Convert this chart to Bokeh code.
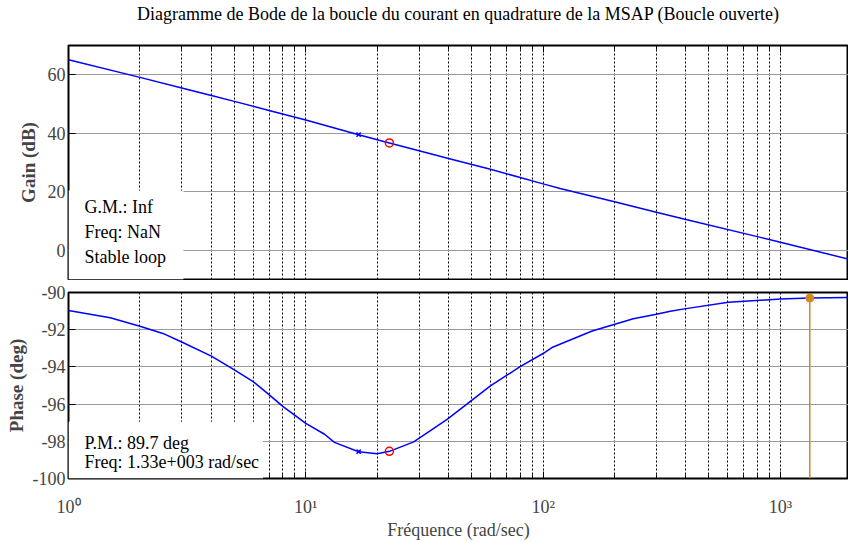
from bokeh.plotting import figure
from bokeh.models import FixedTicker, Label, BoxAnnotation, Range1d, Div
from bokeh.layouts import column
from bokeh.embed import file_html
from bokeh.resources import INLINE

# ---- data ----
freq_gain = [1, 2, 3, 4, 5, 7, 10, 16.7, 22.5, 30, 40.7, 60, 100, 118, 200, 300, 400, 824, 1000, 2000]
gain_db = [65.1, 59.1, 55.5, 52.9, 50.9, 47.8, 44.5, 39.5, 36.7, 34.0, 31.2, 27.7, 22.7, 21.1, 16.6, 13.0, 10.5, 4.4, 2.7, -3.3]

freq_phase = [1, 1.5, 2, 2.5, 3, 4, 5, 6, 7, 8, 10, 12, 13.2, 16.7, 20, 22.5, 28.5, 39.4, 49.4, 60, 80,
              100, 109, 161, 240, 300, 344, 394, 604, 1000, 1330, 2000]
phase_deg = [-90.97, -91.36, -91.81, -92.2, -92.66, -93.42, -94.16, -94.79, -95.49, -96.12, -97.04, -97.62,
             -98.06, -98.56, -98.67, -98.54, -98.03, -96.82, -95.85, -95.02, -93.99,
             -93.28, -92.96, -92.07, -91.41, -91.17, -91.01, -90.88, -90.53, -90.35, -90.30, -90.27]

mark_x_freq = [16.7]
mark_x_gain = [39.5]
mark_x_phase = [-98.56]
mark_o_freq = [22.5]
mark_o_gain = [36.7]
mark_o_phase = [-98.54]

pm_freq = [1330]
pm_phase = [-90.3]
pm_floor = [-100]

x_major = [1, 10, 100, 1000]
x_minor = [2, 3, 4, 5, 6, 7, 8, 9, 20, 30, 40, 50, 60, 70, 80, 90,
           200, 300, 400, 500, 600, 700, 800, 900, 2000]
x_labels = {1: "10\u2070", 10: "10\u00b9", 100: "10\u00b2", 1000: "10\u00b3"}
gain_ticks = [0, 20, 40, 60]
phase_ticks = [-100, -98, -96, -94, -92, -90]

title_text = "Diagramme de Bode de la boucle du courant en quadrature de la MSAP (Boucle ouverte)"
gm_lines = ["G.M.: Inf", "Freq: NaN", "Stable loop"]
pm_lines = ["P.M.: 89.7 deg", "Freq: 1.33e+003 rad/sec"]

FONT = "Liberation Serif"
FS = "18px"
BLUE = "#0000ff"
ORANGE = "#d08a1e"


def style(p, yticks):
    p.background_fill_color = "white"
    p.border_fill_color = "white"
    p.outline_line_color = "black"
    p.outline_line_width = 2
    xa = p.xaxis[0]
    xa.ticker = FixedTicker(ticks=x_major, minor_ticks=x_minor)
    xa.major_tick_in = 7
    xa.major_tick_out = 0
    xa.minor_tick_in = 4
    xa.minor_tick_out = 0
    xa.axis_line_color = None
    xa.major_tick_line_color = "black"
    xa.minor_tick_line_color = "black"
    ya = p.yaxis[0]
    ya.ticker = FixedTicker(ticks=yticks)
    ya.major_label_overrides = {t: str(t) for t in yticks}
    ya.major_tick_in = 7
    ya.major_tick_out = 0
    ya.minor_tick_line_color = None
    ya.axis_line_color = None
    ya.major_label_standoff = 3
    ya.major_label_text_font = FONT
    ya.major_label_text_font_size = FS
    ya.axis_label_text_font = FONT
    ya.axis_label_text_font_size = "19px"
    ya.axis_label_text_font_style = "bold"
    p.xgrid.ticker = FixedTicker(ticks=x_major, minor_ticks=x_minor)
    p.xgrid.grid_line_color = "black"
    p.xgrid.grid_line_dash = "2 2"
    p.xgrid.grid_line_width = 1
    p.xgrid.minor_grid_line_color = "black"
    p.xgrid.minor_grid_line_dash = "2 2"
    p.xgrid.minor_grid_line_width = 1
    p.ygrid.ticker = FixedTicker(ticks=yticks)
    p.ygrid.grid_line_color = "#9a9a9a"
    p.ygrid.grid_line_width = 1


# ---- title ----
title_div = Div(text=title_text, width=848, height=28, margin=0,
                styles={"font-family": "'Liberation Serif', serif", "font-size": FS,
                        "color": "black", "text-align": "center",
                        "padding-left": "68px", "padding-top": "4px",
                        "box-sizing": "border-box", "line-height": "20px",
                        "white-space": "nowrap"})

# ---- gain plot ----
p1 = figure(width=848, height=252, x_axis_type="log", x_axis_location="above",
            x_range=Range1d(1, 1937), y_range=Range1d(-10, 70),
            output_backend="svg", toolbar_location=None,
            min_border_left=68, min_border_right=0, min_border_top=17, min_border_bottom=1)
style(p1, gain_ticks)
p1.xaxis[0].major_label_text_font_size = "1px"
p1.xaxis[0].major_label_text_color = None
p1.xaxis[0].major_label_standoff = 0
p1.yaxis[0].axis_label = "Gain (dB)"
p1.yaxis[0].axis_label_standoff = 6

p1.line(freq_gain, gain_db, line_color=BLUE, line_width=1.5)
p1.scatter(mark_x_freq, mark_x_gain, marker="x", size=6, line_color=BLUE, line_width=1.5)
p1.scatter(mark_o_freq, mark_o_gain, marker="circle", size=8, fill_color=None,
           line_color="red", line_width=1.5)

p1.add_layout(BoxAnnotation(left=1, right=3.05, bottom=-10, top=20.46,
                            fill_color="white", fill_alpha=1, line_color=None))
for txt, yv in zip(gm_lines, [14.9, 6.1, -2.2]):
    p1.add_layout(Label(x=1, y=yv, x_offset=16, text=txt, text_baseline="middle",
                        text_font=FONT, text_font_size=FS, text_color="black"))

# ---- phase plot ----
p2 = figure(width=848, height=262, x_axis_type="log", x_axis_location="below",
            x_range=p1.x_range, y_range=Range1d(-100, -90),
            output_backend="svg", toolbar_location=None,
            min_border_left=68, min_border_right=0, min_border_top=12, min_border_bottom=60)
style(p2, phase_ticks)
xa2 = p2.xaxis[0]
xa2.major_label_overrides = x_labels
xa2.major_label_text_font = FONT
xa2.major_label_text_font_size = FS
xa2.major_label_standoff = 18
xa2.axis_label = "Fréquence (rad/sec)"
xa2.axis_label_text_font = FONT
xa2.axis_label_text_font_size = FS
xa2.axis_label_text_font_style = "normal"
xa2.axis_label_standoff = 0
p2.yaxis[0].axis_label = "Phase (deg)"
p2.yaxis[0].axis_label_standoff = 3

p2.line(freq_phase, phase_deg, line_color=BLUE, line_width=1.5)
p2.scatter(mark_x_freq, mark_x_phase, marker="x", size=6, line_color=BLUE, line_width=1.5)
p2.scatter(mark_o_freq, mark_o_phase, marker="circle", size=8, fill_color=None,
           line_color="red", line_width=1.5)
p2.segment(x0=pm_freq, y0=pm_floor, x1=pm_freq, y1=pm_phase, line_color=ORANGE, line_width=1.5)
p2.scatter(pm_freq, pm_phase, marker="circle", size=8, fill_color=ORANGE, line_color=ORANGE)

p2.add_layout(BoxAnnotation(left=1, right=6.6, bottom=-100, top=-96.95,
                            fill_color="white", fill_alpha=1, line_color=None))
for txt, yv in zip(pm_lines, [-98.1, -99.1]):
    p2.add_layout(Label(x=1, y=yv, x_offset=16, text=txt, text_baseline="middle",
                        text_font=FONT, text_font_size=FS, text_color="black"))

layout = column(title_div, p1, p2, spacing=0)
open("out.html", "w").write(file_html(layout, INLINE))
